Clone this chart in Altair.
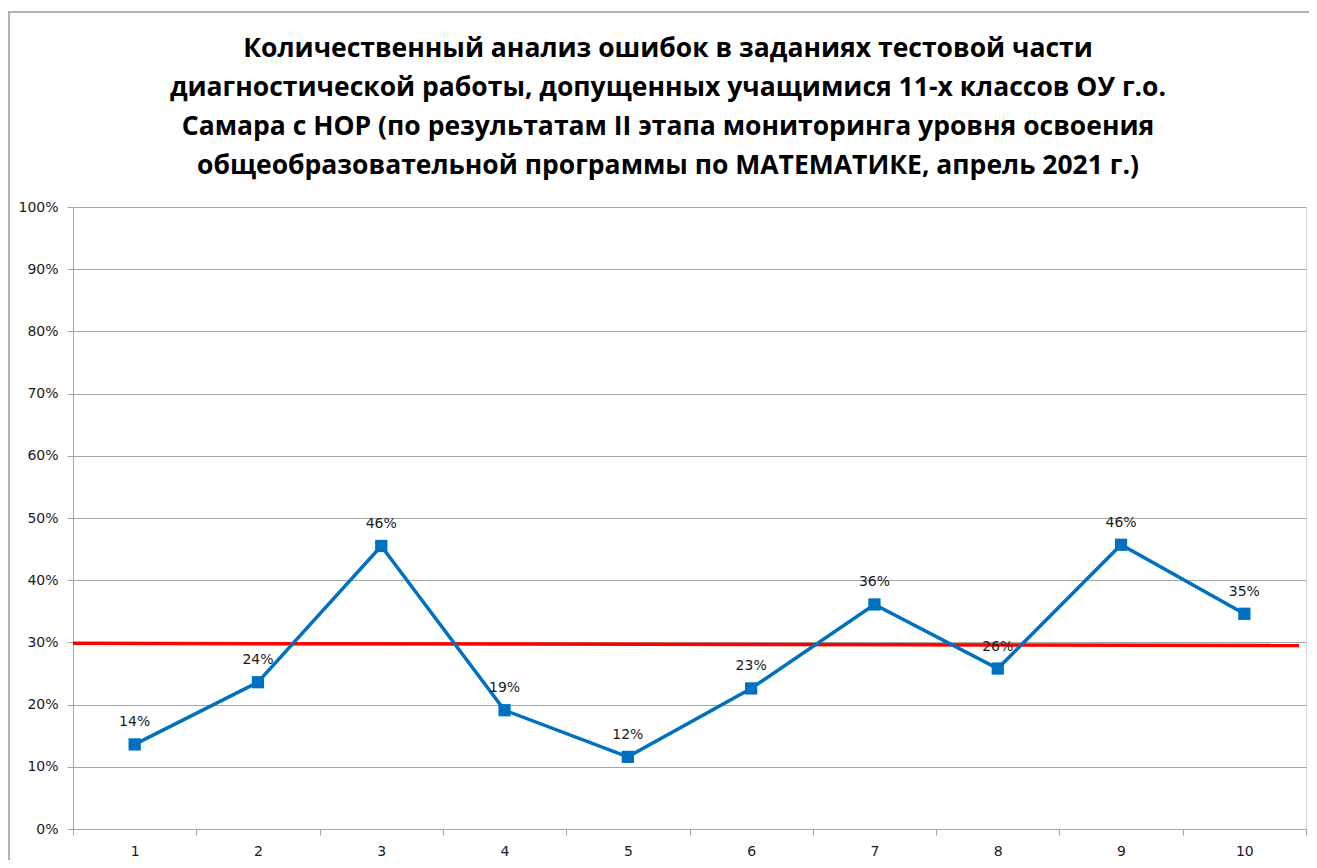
import altair as alt
import pandas as pd

tasks = ["1", "2", "3", "4", "5", "6", "7", "8", "9", "10"]
error_share = [0.136, 0.236, 0.455, 0.191, 0.116, 0.226, 0.361, 0.258, 0.457, 0.346]
red_start = [0.2985]
red_end = [0.2950]
title_lines = [
    "Количественный анализ ошибок в заданиях тестовой части",
    "диагностической работы, допущенных учащимися 11-х классов ОУ г.о.",
    "Самара с НОР (по результатам II этапа мониторинга уровня освоения",
    "общеобразовательной программы по МАТЕМАТИКЕ, апрель 2021 г.)",
]

df = pd.DataFrame({"task": tasks, "share": error_share})
red_df = pd.DataFrame({"y0": red_start, "y1": red_end})

W, H = 1233, 622
FONT = "DejaVu Sans"

x_enc = alt.X(
    "task:N",
    sort=tasks,
    bandPosition=0.5,
    scale=alt.Scale(type="band", paddingInner=0, paddingOuter=0),
    axis=alt.Axis(
        title=None, labelAngle=0, tickBand="extent", grid=False,
        domainColor="#a6a6a6", tickColor="#a6a6a6", tickSize=6,
        labelFont=FONT, labelFontSize=14, labelColor="#1a1a1a", labelPadding=9,
    ),
)
y_enc = alt.Y(
    "share:Q",
    scale=alt.Scale(domain=[0, 1], nice=False),
    axis=alt.Axis(
        title=None, format=".0%", values=[i / 10 for i in range(11)],
        domainColor="#a6a6a6", tickColor="#a6a6a6", tickSize=6,
        gridColor="#a6a6a6", gridWidth=1,
        labelFont=FONT, labelFontSize=14, labelColor="#1a1a1a", labelPadding=9,
    ),
)

base = alt.Chart(df)

line = base.mark_line(color="#0070C0", strokeWidth=3.5).encode(x=x_enc, y=y_enc)
points = base.mark_square(color="#0070C0", size=150, opacity=1, filled=True).encode(
    x=alt.X("task:N", sort=tasks, bandPosition=0.5), y="share:Q"
)
labels = base.mark_text(
    font=FONT, fontSize=14, color="#1a1a1a", baseline="bottom", dy=-15
).encode(
    x=alt.X("task:N", sort=tasks, bandPosition=0.5), y="share:Q",
    text=alt.Text("share:Q", format=".0%"),
)
red = alt.Chart(red_df).mark_rule(color="#ff0000", strokeWidth=3.5).encode(
    x=alt.value(0), x2=alt.value(1226), y="y0:Q", y2="y1:Q"
)
border_top = alt.Chart(red_df).mark_rule(color="#b3b3b3", strokeWidth=2).encode(
    x=alt.value(-64), x2=alt.value(1300), y=alt.value(-195)
)
border_left = alt.Chart(red_df).mark_rule(color="#b3b3b3", strokeWidth=2).encode(
    x=alt.value(-64), y=alt.value(-196), y2=alt.value(700)
)
title = alt.Chart(red_df).mark_text(
    text=title_lines,
    font="Open Sans",
    fontSize=26.5,
    fontWeight="bold",
    color="#000000",
    align="center",
    baseline="alphabetic",
    lineHeight=39,
).encode(x=alt.value(595), y=alt.value(-150))

chart = alt.layer(border_top, border_left, red, line, points, labels, title).properties(
    width=W,
    height=H,
    padding={"left": 65, "top": 199, "right": 3, "bottom": 31},
    autosize=alt.AutoSizeParams(type="none"),
).configure_view(stroke=None).configure(background="white")

chart.save("out.html", embed_options={"renderer": "svg", "actions": False})
